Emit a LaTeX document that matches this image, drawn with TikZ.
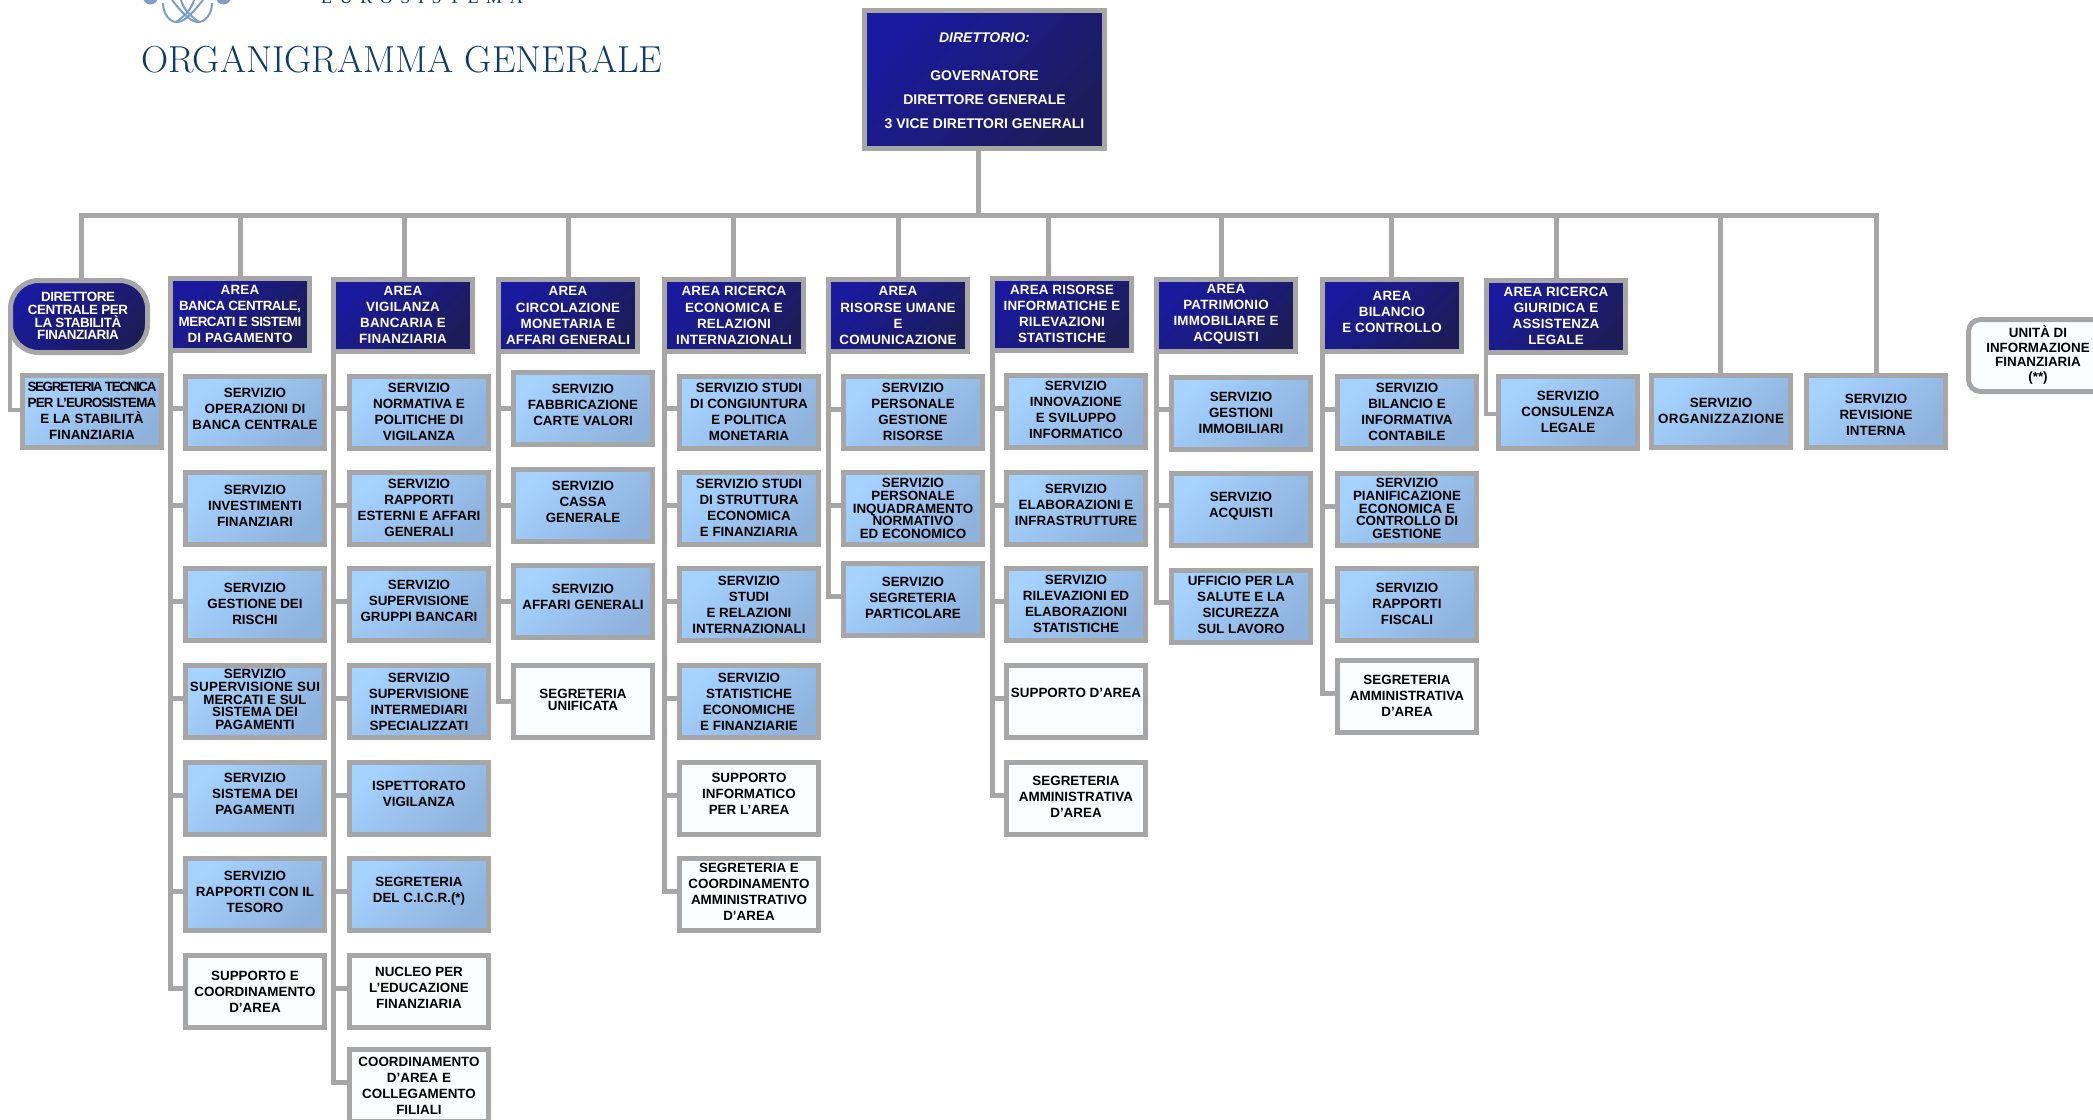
\documentclass[tikz,border=0pt]{standalone}
\usepackage{fontspec}
\usetikzlibrary{backgrounds}
\newfontfamily\labfont{Liberation Sans}
\newfontfamily\eurofont{Liberation Serif}[LetterSpace=42]
\definecolor{bordergrey}{HTML}{A6A6A6}
\definecolor{titleblue}{HTML}{0F3B6C}
\definecolor{logoblue}{HTML}{7B9FC9}
\newcommand\ls[2]{{\addfontfeature{LetterSpace=#1}#2}}
\tikzset{
  boxbase/.style={draw=bordergrey,line width=5pt,minimum width=139pt,minimum height=72pt,inner sep=0pt},
  darkbox/.style={boxbase,top color={rgb,255:red,26;green,26;blue,160},bottom color={rgb,255:red,28;green,28;blue,88},shading angle=45},
  lightbox/.style={boxbase,top color={rgb,255:red,165;green,210;blue,255},bottom color={rgb,255:red,142;green,178;blue,220},shading angle=45},
  whitebox/.style={boxbase,fill={rgb,255:red,250;green,253;blue,255}},
  blacktext/.style={align=center,inner sep=0pt,text=black,font=\labfont\bfseries\fontsize{13.4}{16}\selectfont},
  whitetext/.style={blacktext,text=white,font=\labfont\bfseries\fontsize{13.4}{16}\selectfont\addfontfeature{LetterSpace=1.5}},
  tighttext/.style={font=\labfont\bfseries\fontsize{13.4}{12.7}\selectfont},
  midtext/.style={font=\labfont\bfseries\fontsize{13.4}{14.7}\selectfont},
  conn/.style={draw=bordergrey,line width=5pt},
  thinconn/.style={draw=bordergrey,line width=4pt}
}
% name, box style, left, top, text dy, text style, text
\newcommand\bx[7]{%
  \node[#2] (#1) at (#3+72,#4+38.5) {};
  \node[#6] (#1-t) at (#3+72,#4+38.5+#5) {#7};
}
\newcommand\spine[3]{% area, list of boxes, tick offset
  \begin{scope}[on background layer]
  \foreach \b in {#2}{
    \draw[conn] ([xshift=2.5pt]#1.south west) |- ([yshift=#3pt]\b.west);
  }
  \end{scope}
}
\begin{document}
\begin{tikzpicture}[x=1pt,y=-1pt]
\useasboundingbox (0,0) rectangle (2093,1119);

% logo fragment and header
\begin{scope}[logoblue,line width=2pt]
  \fill (150.5,-3) circle (7.5);
  \fill (223.5,-3) circle (7.5);
  \draw (163,3) .. controls (163,14) and (170,23) .. (178,22) .. controls (186,21) and (195,10) .. (203,0);
  \draw (212,3) .. controls (212,14) and (205,23) .. (197,22) .. controls (189,21) and (180,10) .. (172,0);
  \draw (181,0) .. controls (183,8) and (190,16) .. (199,22);
  \draw (194,0) .. controls (192,8) and (185,16) .. (176,22);
\end{scope}
\node[anchor=base,inner sep=0pt,text=titleblue,font=\eurofont\fontsize{18}{18}\selectfont] (euro) at (422,3) {EUROSISTEMA};
\node[anchor=base west,inner sep=0pt,text=titleblue,font=\fontsize{37.6}{37.6}\selectfont] (title) at (141,72) {ORGANIGRAMMA GENERALE};

% top
\node[darkbox,minimum width=240pt,minimum height=138pt] (dir) at (984.5,79.5) {};
\node[whitetext,font=\labfont\bfseries\fontsize{14}{24}\selectfont] (dir-t) at (984.5,81) {\textit{DIRETTORIO:}\\[14pt]GOVERNATORE\\DIRETTORE GENERALE\\3 VICE DIRETTORI GENERALI};

% second level
\node[darkbox,rounded corners=28pt,minimum width=137pt] (dc) at (79,316.5) {};
\node[whitetext,tighttext] (dc-t) at (78,316) {\ls{-3}{DIRETTORE}\\\ls{-3}{CENTRALE PER}\\\ls{-3}{LA STABILITÀ}\\\ls{-3}{FINANZIARIA}};
\bx{a1}{darkbox}{168}{276}{-0.5}{whitetext}{AREA\\\ls{-4}{BANCA CENTRALE,}\\\ls{-4}{MERCATI E SISTEMI}\\DI PAGAMENTO}
\bx{a2}{darkbox}{331}{277}{-1}{whitetext}{AREA\\VIGILANZA\\BANCARIA E\\FINANZIARIA}
\bx{a3}{darkbox}{496}{277}{0}{whitetext}{AREA\\[1pt]CIRCOLAZIONE\\MONETARIA E\\AFFARI GENERALI}
\bx{a4}{darkbox}{662}{277}{0}{whitetext}{AREA RICERCA\\[1pt]ECONOMICA E\\RELAZIONI\\INTERNAZIONALI}
\bx{a5}{darkbox}{826}{277}{0}{whitetext}{AREA\\[1pt]RISORSE UMANE\\E\\COMUNICAZIONE}
\bx{a6}{darkbox}{990}{276}{-0.5}{whitetext}{AREA RISORSE\\INFORMATICHE E\\RILEVAZIONI\\STATISTICHE}
\bx{a7}{darkbox}{1154}{277}{-1.5}{whitetext}{AREA\\PATRIMONIO\\IMMOBILIARE E\\ACQUISTI}
\bx{a8}{darkbox}{1320}{277}{-3.5}{whitetext}{AREA\\BILANCIO\\E CONTROLLO}
\bx{a9}{darkbox}{1484}{278}{-0.5}{whitetext}{AREA RICERCA\\GIURIDICA E\\ASSISTENZA\\LEGALE}

% segreteria tecnica
\bx{s0}{lightbox}{20}{373}{-0.5}{blacktext}{\ls{-10}{SEGRETERIA TECNICA}\\\ls{-6}{PER L’EUROSISTEMA}\\E LA STABILITÀ\\FINANZIARIA}

% col 1
\bx{s11}{lightbox}{183}{373.5}{-3.5}{blacktext}{SERVIZIO\\OPERAZIONI DI\\BANCA CENTRALE}
\bx{s12}{lightbox}{183}{470}{-2.5}{blacktext}{SERVIZIO\\INVESTIMENTI\\FINANZIARI}
\bx{s13}{lightbox}{183}{566}{-1}{blacktext}{SERVIZIO\\GESTIONE DEI\\RISCHI}
\bx{s14}{lightbox}{183}{663}{-2}{blacktext,tighttext}{SERVIZIO\\\ls{2}{SUPERVISIONE SUI}\\MERCATI E SUL\\SISTEMA DEI\\PAGAMENTI}
\bx{s15}{lightbox}{183}{760}{-4.5}{blacktext}{SERVIZIO\\SISTEMA DEI\\PAGAMENTI}
\bx{s16}{lightbox}{183}{856}{-3}{blacktext}{SERVIZIO\\RAPPORTI CON IL\\TESORO}
\bx{s17}{whitebox}{183}{953}{0}{blacktext}{SUPPORTO E\\COORDINAMENTO\\D’AREA}

% col 2
\bx{s21}{lightbox}{347}{373.5}{0}{blacktext}{SERVIZIO\\NORMATIVA E\\POLITICHE DI\\VIGILANZA}
\bx{s22}{lightbox}{347}{470}{-1}{blacktext}{SERVIZIO\\RAPPORTI\\ESTERNI E AFFARI\\GENERALI}
\bx{s23}{lightbox}{347}{566}{-3.7}{blacktext}{SERVIZIO\\SUPERVISIONE\\GRUPPI BANCARI}
\bx{s24}{lightbox}{347}{663}{0}{blacktext}{SERVIZIO\\SUPERVISIONE\\INTERMEDIARI\\SPECIALIZZATI}
\bx{s25}{lightbox}{347}{760}{-4.5}{blacktext}{ISPETTORATO\\VIGILANZA}
\bx{s26}{lightbox}{347}{856}{-3}{blacktext}{SEGRETERIA\\DEL C.I.C.R.(*)}
\bx{s27}{whitebox}{347}{953}{-3.5}{blacktext}{NUCLEO PER\\L’EDUCAZIONE\\FINANZIARIA}
\bx{s28}{whitebox}{347}{1047}{0}{blacktext}{COORDINAMENTO\\D’AREA E\\COLLEGAMENTO\\FILIALI}

% col 3
\bx{s31}{lightbox}{511}{370}{-3.5}{blacktext}{SERVIZIO\\FABBRICAZIONE\\CARTE VALORI}
\bx{s32}{lightbox}{511}{467}{-3.5}{blacktext}{SERVIZIO\\CASSA\\GENERALE}
\bx{s33}{lightbox}{511}{563}{-4.5}{blacktext}{SERVIZIO\\AFFARI GENERALI}
\bx{s34}{whitebox}{511}{663}{-1.5}{blacktext,tighttext}{SEGRETERIA\\UNIFICATA}

% col 4
\bx{s41}{lightbox}{677}{373.5}{0}{blacktext}{SERVIZIO STUDI\\DI CONGIUNTURA\\E POLITICA\\MONETARIA}
\bx{s42}{lightbox}{677}{470}{-1}{blacktext}{SERVIZIO STUDI\\DI STRUTTURA\\ECONOMICA\\E FINANZIARIA}
\bx{s43}{lightbox}{677}{566}{0}{blacktext}{SERVIZIO\\STUDI\\E RELAZIONI\\INTERNAZIONALI}
\bx{s44}{lightbox}{677}{663}{0}{blacktext}{SERVIZIO\\STATISTICHE\\ECONOMICHE\\E FINANZIARIE}
\bx{s45}{whitebox}{677}{760}{-5}{blacktext}{SUPPORTO\\INFORMATICO\\PER L’AREA}
\bx{s46}{whitebox}{677}{856}{-2.5}{blacktext}{SEGRETERIA E\\COORDINAMENTO\\AMMINISTRATIVO\\D’AREA}

% col 5
\bx{s51}{lightbox}{841}{373.5}{0}{blacktext}{SERVIZIO\\PERSONALE\\GESTIONE\\RISORSE}
\bx{s52}{lightbox}{841}{470}{0}{blacktext,tighttext}{SERVIZIO\\PERSONALE\\INQUADRAMENTO\\NORMATIVO\\ED ECONOMICO}
\bx{s53}{lightbox}{841}{561}{-1.5}{blacktext}{SERVIZIO\\SEGRETERIA\\PARTICOLARE}

% col 6
\bx{s61}{lightbox}{1004}{372.7}{-1}{blacktext}{SERVIZIO\\INNOVAZIONE\\E SVILUPPO\\INFORMATICO}
\bx{s62}{lightbox}{1004}{470}{-4}{blacktext}{SERVIZIO\\ELABORAZIONI E\\INFRASTRUTTURE}
\bx{s63}{lightbox}{1004}{566}{-1}{blacktext}{SERVIZIO\\RILEVAZIONI ED\\ELABORAZIONI\\STATISTICHE}
\bx{s64}{whitebox}{1004}{663}{-8.5}{blacktext}{SUPPORTO D’AREA}
\bx{s65}{whitebox}{1004}{760}{-1.5}{blacktext}{SEGRETERIA\\AMMINISTRATIVA\\D’AREA}

% col 7
\bx{s71}{lightbox}{1169}{375}{-1}{blacktext}{SERVIZIO\\GESTIONI\\IMMOBILIARI}
\bx{s72}{lightbox}{1169}{471}{-3.5}{blacktext}{SERVIZIO\\ACQUISTI}
\bx{s73}{lightbox}{1169}{568}{-1.5}{blacktext}{UFFICIO PER LA\\SALUTE E LA\\SICUREZZA\\SUL LAVORO}

% col 8
\bx{s81}{lightbox}{1335}{373.5}{0}{blacktext}{SERVIZIO\\BILANCIO E\\INFORMATIVA\\CONTABILE}
\bx{s82}{lightbox}{1335}{471}{-1}{blacktext,tighttext}{SERVIZIO\\PIANIFICAZIONE\\ECONOMICA E\\CONTROLLO DI\\GESTIONE}
\bx{s83}{lightbox}{1335}{566}{-1}{blacktext}{SERVIZIO\\RAPPORTI\\FISCALI}
\bx{s84}{whitebox}{1335}{658}{-1}{blacktext}{SEGRETERIA\\AMMINISTRATIVA\\D’AREA}

% right part
\bx{s91}{lightbox}{1496}{374}{-0.5}{blacktext}{SERVIZIO\\CONSULENZA\\LEGALE}
\bx{org}{lightbox}{1649}{373}{-0.5}{blacktext}{SERVIZIO\\\ls{3}{ORGANIZZAZIONE}}
\bx{rev}{lightbox}{1804}{372.5}{4}{blacktext}{SERVIZIO\\REVISIONE\\INTERNA}
\node[whitebox,rounded corners=12pt] (uif) at (2038,355.5) {};
\node[blacktext,midtext] (uif-t) at (2038,355) {UNITÀ DI\\INFORMAZIONE\\FINANZIARIA\\(**)};

% connectors
\begin{scope}[on background layer]
  \coordinate (busl) at (79,215.5);
  \coordinate (busr) at (1878.5,215.5);
  \draw[conn] (busl) -- (busr);
  \draw[conn] ([xshift=-6.5pt]dir.south) -- ([xshift=-6.5pt]dir.south |- busl);
  \draw[conn] (81,215.5) -- (dc.north -| 81,0);
  \foreach \n/\xx in {a1/240,a2/404,a3/568,a4/733,a5/898,a6/1048,a7/1221,a8/1391,a9/1556,org/1720,rev/1876}{
    \draw[conn] (\xx,215.5) -- (\n.north -| \xx,0);
  }
\end{scope}
\spine{a1}{s11,s12,s13,s14,s15,s16,s17}{3.5}
\spine{a2}{s21,s22,s23,s24,s25,s26,s27,s28}{3.5}
\spine{a3}{s31,s32,s33,s34}{0.5}
\spine{a4}{s41,s42,s43,s44,s45,s46}{3.5}
\spine{a5}{s51,s52,s53}{3}
\spine{a6}{s61,s62,s63,s64,s65}{3}
\spine{a7}{s71,s72,s73}{4}
\spine{a8}{s81,s82,s83,s84}{3}
\begin{scope}[on background layer]
  \draw[thinconn] ([xshift=2pt]a9.south west) |- ([yshift=-1.5pt]s91.west);
  \draw[thinconn] ([xshift=2pt]dc.west) |- ([yshift=1.5pt]s0.west);
\end{scope}
\end{tikzpicture}
\end{document}
